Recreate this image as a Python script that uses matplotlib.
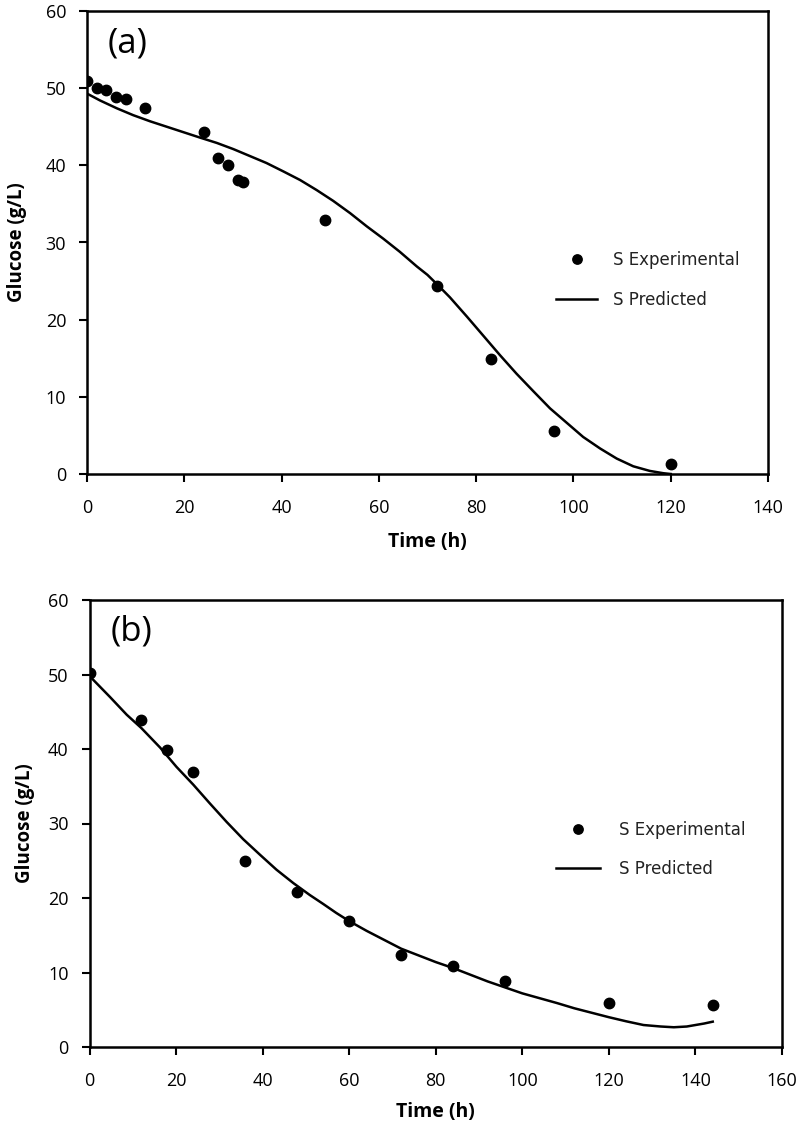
import matplotlib
matplotlib.use("Agg")
import matplotlib.pyplot as plt

# ---- Data panel (a) ----
t_exp_a = [0, 2, 4, 6, 8, 12, 24, 27, 29, 31, 32, 49, 72, 83, 96, 120]
s_exp_a = [50.9, 50.0, 49.7, 48.9, 48.6, 47.4, 44.3, 40.9, 40.0, 38.1, 37.8, 32.9, 24.4, 14.9, 5.6, 1.3]
t_pred_a = [0, 2.7, 6.1, 9.5, 13.0, 16.4, 19.8, 23.2, 26.7, 30.1, 33.5, 36.9, 40.4, 43.8,
            47.2, 50.6, 54.1, 57.5, 60.9, 64.3, 67.8, 70.0, 72.1, 74.6, 78.1, 81.5, 84.9, 88.3,
            91.8, 95.2, 98.6, 102.0, 105.5, 108.9, 112.3, 115.7, 118.5, 120]
s_pred_a = [49.3, 48.4, 47.4, 46.5, 45.7, 45.0, 44.3, 43.6, 42.9, 42.1, 41.2, 40.3, 39.2, 38.1,
            36.8, 35.4, 33.8, 32.1, 30.5, 28.8, 26.9, 25.8, 24.5, 22.9, 20.4, 17.9, 15.4, 13.0,
            10.7, 8.5, 6.65, 4.8, 3.3, 2.0, 1.0, 0.4, 0.1, 0.0]

# ---- Data panel (b) ----
t_exp_b = [0, 12, 18, 24, 36, 48, 60, 72, 84, 96, 120, 144]
s_exp_b = [50.2, 43.9, 39.9, 36.9, 24.9, 20.8, 16.9, 12.4, 10.9, 8.9, 5.9, 5.6]
t_pred_b = [0, 4.7, 8.6, 12.0, 16.3, 20.1, 24.0, 27.8, 31.7, 35.5, 39.4, 43.2, 47.1, 50.9,
            54, 57, 60, 64, 68, 72, 76, 80, 84, 88, 92, 96, 100, 104, 108, 112, 116, 120,
            124, 128, 132, 135, 138, 140, 142, 144]
s_pred_b = [49.8, 47.0, 44.6, 42.8, 40.2, 37.6, 35.2, 32.7, 30.2, 27.9, 25.8, 23.8, 22.0, 20.4,
            19.2, 18.0, 16.9, 15.6, 14.4, 13.2, 12.3, 11.4, 10.6, 9.7, 8.8, 8.0, 7.2, 6.55,
            5.9, 5.2, 4.6, 4.0, 3.45, 2.95, 2.75, 2.65, 2.75, 2.95, 3.15, 3.4]

xticks_a = [0, 20, 40, 60, 80, 100, 120, 140]
xticks_b = [0, 20, 40, 60, 80, 100, 120, 140, 160]
yticks = [0, 10, 20, 30, 40, 50, 60]

label_exp = "S Experimental"
label_pred = "S Predicted"
xlabel = "Time (h)"
ylabel = "Glucose (g/L)"

tick_font = "Open Sans"
LEG_FS = 12

fig = plt.figure(figsize=(7.99, 11.34), dpi=100)
fig.patch.set_facecolor("white")

ax_a = fig.add_axes([87/799, 1-474/1134, 681/799, 463/1134])
ax_b = fig.add_axes([89.5/799, 1-1047/1134, 692.5/799, 447/1134])

# (axes, exp t, exp s, pred t, pred s, xticks, tag, legend line start px, legend center y px,
#  handle length px, text start px, row spacing px, xlabelpad, ylabelpad)
panels = [
    (ax_a, t_exp_a, s_exp_a, t_pred_a, s_pred_a, xticks_a, "(a)", 556, 280, 41, 613, 42, 11, 13),
    (ax_b, t_exp_b, s_exp_b, t_pred_b, s_pred_b, xticks_b, "(b)", 556, 849.5, 44, 619, 41, 9, 9.5),
]

fs_px = LEG_FS * 100 / 72.0

for ax, te, se, tp, sp, xt, tag, lx, ly, hl, tx, rs, xlp, ylp in panels:
    ax.plot(te, se, "o", color="black", markersize=7.5, label=label_exp, zorder=3)
    ax.plot(tp, sp, "-", color="black", linewidth=1.8, label=label_pred, zorder=2)
    ax.set_xlim(xt[0], xt[-1])
    ax.set_ylim(0, 60)
    ax.set_xticks(xt)
    ax.set_yticks(yticks)
    for sp_ in ax.spines.values():
        sp_.set_linewidth(1.8)
        sp_.set_color("black")
    ax.tick_params(axis="both", direction="out", length=6, width=1.5, colors="black")
    ax.tick_params(axis="x", pad=12)
    ax.tick_params(axis="y", pad=9)
    for lab in ax.get_xticklabels() + ax.get_yticklabels():
        lab.set_fontfamily(tick_font)
        lab.set_fontsize(13)
    ax.set_xlabel(xlabel, fontfamily=tick_font, fontweight="bold", fontsize=14, labelpad=xlp)
    ax.set_ylabel(ylabel, fontfamily=tick_font, fontweight="bold", fontsize=13.5, labelpad=ylp)
    ax.text(0.06, 0.93, tag, transform=ax.transAxes, fontsize=25, fontfamily=tick_font,
            ha="center", va="center")
    offset = (0.5 + 0.4) * fs_px
    leg = ax.legend(loc="center left", bbox_to_anchor=((lx - offset) / 799, 1 - ly / 1134),
                    bbox_transform=fig.transFigure,
                    frameon=False, fontsize=LEG_FS, handlelength=hl / fs_px,
                    handletextpad=(tx - lx - hl) / fs_px,
                    labelspacing=(rs - 1.17 * fs_px) / fs_px, markerscale=0.9)
    for txt in leg.get_texts():
        txt.set_color("#222222")
        txt.set_fontfamily("DejaVu Sans")

fig.savefig("out.png", dpi=100, facecolor="white")
